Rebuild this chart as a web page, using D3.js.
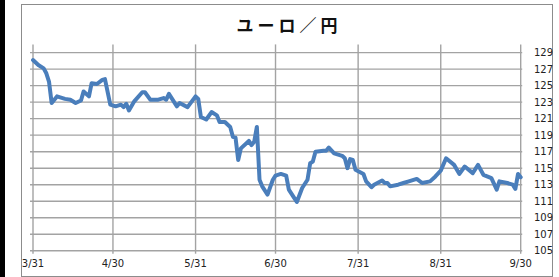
<!DOCTYPE html>
<html>
<head>
<meta charset="utf-8">
<script src="https://cdn.jsdelivr.net/npm/d3@7"></script>
<style>
  html, body { margin: 0; padding: 0; background: #fff; }
  svg { display: block; }
</style>
</head>
<body>
<div id="chart"></div>
<script>
// --- data ---
const chartTitle = "ユーロ／円";

const dates = [
  "2016-03-31", "2016-04-02", "2016-04-04", "2016-04-05", "2016-04-06", "2016-04-07",
  "2016-04-09", "2016-04-12", "2016-04-14", "2016-04-16", "2016-04-18", "2016-04-19",
  "2016-04-21", "2016-04-22", "2016-04-24", "2016-04-26", "2016-04-27", "2016-04-29",
  "2016-05-01", "2016-05-03", "2016-05-04", "2016-05-05", "2016-05-06", "2016-05-08",
  "2016-05-11", "2016-05-12", "2016-05-14", "2016-05-17", "2016-05-19", "2016-05-20",
  "2016-05-21", "2016-05-24", "2016-05-25", "2016-05-28", "2016-05-31", "2016-06-01",
  "2016-06-02", "2016-06-04", "2016-06-06", "2016-06-08", "2016-06-09", "2016-06-11",
  "2016-06-13", "2016-06-14", "2016-06-15", "2016-06-16", "2016-06-17", "2016-06-20",
  "2016-06-21", "2016-06-22", "2016-06-23", "2016-06-24", "2016-06-25", "2016-06-27",
  "2016-06-29", "2016-06-30", "2016-07-02", "2016-07-04", "2016-07-05", "2016-07-07",
  "2016-07-08", "2016-07-10", "2016-07-12", "2016-07-13", "2016-07-14", "2016-07-15",
  "2016-07-18", "2016-07-19", "2016-07-20", "2016-07-22", "2016-07-25", "2016-07-26",
  "2016-07-27", "2016-07-28", "2016-07-29", "2016-07-30", "2016-08-02", "2016-08-03",
  "2016-08-05", "2016-08-06", "2016-08-09", "2016-08-10", "2016-08-11", "2016-08-12",
  "2016-08-15", "2016-08-17", "2016-08-19", "2016-08-22", "2016-08-24", "2016-08-27",
  "2016-08-29", "2016-08-31", "2016-09-02", "2016-09-05", "2016-09-07", "2016-09-09",
  "2016-09-12", "2016-09-14", "2016-09-15", "2016-09-16", "2016-09-19", "2016-09-21",
  "2016-09-22", "2016-09-25", "2016-09-27", "2016-09-28", "2016-09-29", "2016-09-30"
];

const rates = [
  128.1, 127.5, 127.1, 126.5, 125.5, 122.9,
  123.7, 123.4, 123.3, 122.9, 123.2, 124.3,
  123.7, 125.3, 125.2, 125.7, 125.8, 122.7,
  122.5, 122.7, 122.4, 122.8, 122.0, 123.1,
  124.2, 124.2, 123.3, 123.3, 123.5, 123.3,
  124.0, 122.5, 122.9, 122.4, 123.7, 123.4,
  121.2, 120.9, 121.8, 121.4, 120.6, 120.6,
  120.0, 118.8, 118.7, 116.0, 117.4, 118.3,
  117.8, 118.2, 120.0, 113.6, 112.8, 111.8,
  113.6, 114.1, 114.3, 114.1, 112.4, 111.4,
  110.9, 112.6, 113.6, 115.6, 115.8, 117.0,
  117.1, 117.1, 117.5, 116.8, 116.5, 116.2,
  115.0, 116.1, 116.0, 114.8, 114.3, 113.4,
  112.7, 113.0, 113.5, 113.2, 113.2, 112.8,
  113.0, 113.2, 113.4, 113.7, 113.2, 113.4,
  114.0, 114.7, 116.2, 115.4, 114.3, 115.2,
  114.4, 115.4, 114.8, 114.2, 113.8, 112.4,
  113.4, 113.2, 113.0, 112.5, 114.3, 113.9
];

// x軸の目盛り（月末）
const xTickDates = ["2016-03-31", "2016-04-30", "2016-05-31", "2016-06-30", "2016-07-31", "2016-08-31", "2016-09-30"];
// y軸の目盛り
const yTickValues = [105, 107, 109, 111, 113, 115, 117, 119, 121, 123, 125, 127, 129];
const yDomain = [105, 130];

// --- layout ---
const width = 559;
const height = 277;
const plot = { left: 33, right: 520.7, top: 44.4, bottom: 250.7 };
const lineColor = "#4a7ebb";
const gridColor = "#a3a3a3";
const labelFont = "'DejaVu Sans', Verdana, sans-serif";

const parse = d3.timeParse("%Y-%m-%d");
const fmt = d3.timeFormat("%-m/%-d");

const series = dates.map((d, i) => ({ date: parse(d), value: rates[i] }));
const xTicks = xTickDates.map(parse);

const x = d3.scaleTime()
  .domain([xTicks[0], xTicks[xTicks.length - 1]])
  .range([plot.left, plot.right]);

const y = d3.scaleLinear()
  .domain(yDomain)
  .range([plot.bottom, plot.top]);

const svg = d3.select("#chart").append("svg")
  .attr("width", width)
  .attr("height", height);

// 左端の黒帯
svg.append("rect")
  .attr("x", 0).attr("y", 0)
  .attr("width", 5).attr("height", height)
  .attr("fill", "#000");

// 外枠
svg.append("rect")
  .attr("x", 21.5).attr("y", 4.5)
  .attr("width", 531).attr("height", 272)
  .attr("fill", "#fff")
  .attr("stroke", "#8c8c8c")
  .attr("stroke-width", 1);

// タイトル
svg.append("text")
  .attr("x", 289)
  .attr("y", 32)
  .attr("text-anchor", "middle")
  .style("font-family", "'Noto Sans CJK JP', sans-serif")
  .style("font-weight", "bold")
  .style("font-size", "17px")
  .style("letter-spacing", "4px")
  .style("fill", "#111")
  .text(chartTitle);

const grid = svg.append("g")
  .attr("stroke", gridColor)
  .attr("stroke-width", 1.4);

// 横のグリッド線（左に少しはみ出す目盛り付き）
grid.selectAll(".hgrid")
  .data(yTickValues)
  .enter()
  .append("line")
  .attr("x1", plot.left - 3)
  .attr("x2", plot.right + 1.5)
  .attr("y1", d => y(d))
  .attr("y2", d => y(d));

// 縦のグリッド線（下に少しはみ出す目盛り付き）
grid.selectAll(".vgrid")
  .data(xTicks)
  .enter()
  .append("line")
  .attr("x1", d => x(d))
  .attr("x2", d => x(d))
  .attr("y1", plot.top)
  .attr("y2", plot.bottom + 3);

// 右側のy軸ラベル
svg.selectAll(".ylabel")
  .data(yTickValues)
  .enter()
  .append("text")
  .attr("x", 534)
  .attr("y", d => y(d))
  .attr("dy", "0.36em")
  .style("font-family", labelFont)
  .style("font-size", "10px")
  .style("fill", "#222")
  .text(d => d);

// 下のx軸ラベル
svg.selectAll(".xlabel")
  .data(xTicks)
  .enter()
  .append("text")
  .attr("x", d => x(d))
  .attr("y", 266.5)
  .attr("text-anchor", "middle")
  .style("font-family", labelFont)
  .style("font-size", "10px")
  .style("fill", "#222")
  .text(d => fmt(d));

// 為替レートの線
const lineGenerator = d3.line()
  .x(d => x(d.date))
  .y(d => y(d.value));

svg.append("path")
  .datum(series)
  .attr("d", lineGenerator)
  .attr("fill", "none")
  .attr("stroke", lineColor)
  .attr("stroke-width", 4)
  .attr("stroke-linejoin", "round")
  .attr("stroke-linecap", "round");
</script>
</body>
</html>
